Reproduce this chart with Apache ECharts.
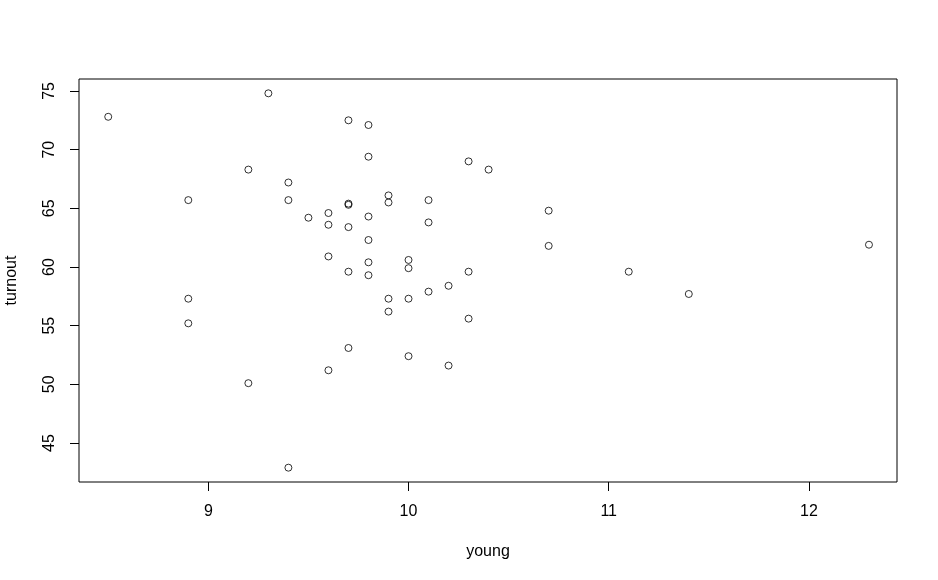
<!DOCTYPE html>
<html>
<head>
<meta charset="utf-8">
<script src="https://cdn.jsdelivr.net/npm/echarts@6/dist/echarts.min.js"></script>
<style>
  html, body { margin: 0; padding: 0; background: #fff; }
  #chart { width: 938px; height: 580px; }
</style>
</head>
<body>
<div id="chart"></div>
<script>
// values (young vs turnout)
const young = [
  8.5, 9.3, 9.7, 9.8, 9.8, 10.3, 10.4, 9.2, 9.4, 9.4,
  8.9, 9.7, 9.7, 9.9, 9.9, 10.1, 9.5, 9.6, 9.8, 9.6,
  9.7, 10.1, 10.7, 9.8, 10.7, 12.3, 9.6, 9.8, 10.0, 10.0,
  9.7, 9.8, 10.3, 11.1, 11.4, 10.1, 10.2, 9.9, 10.0, 8.9,
  9.9, 10.3, 8.9, 9.7, 10.0, 9.6, 10.2, 9.2, 9.4
]
const turnout = [
  72.8, 74.8, 72.5, 72.1, 69.4, 69.0, 68.3, 68.3, 67.2, 65.7,
  65.7, 65.4, 65.3, 66.1, 65.5, 65.7, 64.2, 64.6, 64.3, 63.6,
  63.4, 63.8, 64.8, 62.3, 61.8, 61.9, 60.9, 60.4, 60.6, 59.9,
  59.6, 59.3, 59.6, 59.6, 57.7, 57.9, 58.4, 57.3, 57.3, 57.3,
  56.2, 55.6, 55.2, 53.1, 52.4, 51.2, 51.6, 50.1, 42.9
]
const xTicks = [9, 10, 11, 12]
const yTicks = [45, 50, 55, 60, 65, 70, 75]

const points = young.map((x, i) => [x, turnout[i]])

const chart = echarts.init(document.getElementById('chart'))

const font = 'Liberation Sans, Arial, sans-serif'

chart.setOption({
  animation: false,
  backgroundColor: '#ffffff',
  grid: {
    left: 79,
    right: 41,
    top: 79,
    bottom: 98,
    outerBoundsMode: 'none',
    show: true,
    borderColor: '#000',
    borderWidth: 1,
    backgroundColor: 'transparent'
  },
  xAxis: {
    type: 'value',
    min: 8.354,
    max: 12.44,
    name: 'young',
    nameLocation: 'middle',
    nameGap: 62,
    nameTextStyle: { color: '#000', fontFamily: font, fontSize: 16 },
    axisLine: { show: false },
    splitLine: { show: false },
    axisTick: {
      show: true,
      inside: false,
      length: 9,
      customValues: xTicks,
      lineStyle: { color: '#000', width: 1 }
    },
    axisLabel: {
      customValues: xTicks,
      margin: 22,
      color: '#000',
      fontFamily: font,
      fontSize: 16
    }
  },
  yAxis: {
    type: 'value',
    min: 41.68,
    max: 76.02,
    name: 'turnout',
    nameLocation: 'middle',
    nameGap: 59,
    nameRotate: 90,
    nameTextStyle: { color: '#000', fontFamily: font, fontSize: 16 },
    axisLine: { show: false },
    splitLine: { show: false },
    axisTick: {
      show: true,
      inside: false,
      length: 9,
      customValues: yTicks,
      lineStyle: { color: '#000', width: 1 }
    },
    axisLabel: {
      customValues: yTicks,
      rotate: 90,
      margin: 21,
      color: '#000',
      fontFamily: font,
      fontSize: 16
    }
  },
  series: [
    {
      type: 'scatter',
      data: points,
      symbol: 'circle',
      symbolSize: 7,
      itemStyle: {
        color: 'rgba(0,0,0,0)',
        borderColor: '#000',
        borderWidth: 1
      },
      emphasis: { disabled: true }
    }
  ]
})
</script>
</body>
</html>
